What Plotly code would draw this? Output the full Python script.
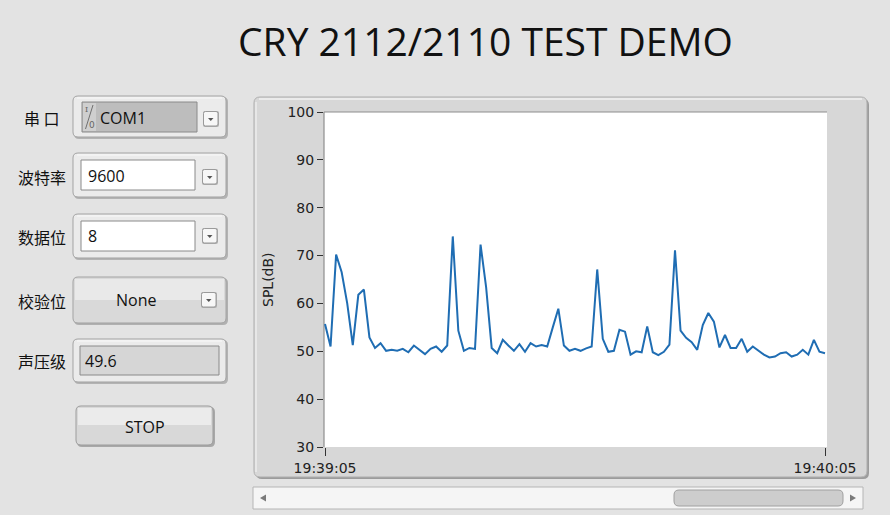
import plotly.graph_objects as go
import pandas as pd

# ---------------- data ----------------
TITLE = "CRY 2112/2110 TEST DEMO"
TICK_LABELS = ["19:39:05", "19:40:05"]
Y_TITLE = "SPL(dB)"
Y_TICKS = [30, 40, 50, 60, 70, 80, 90, 100]
SPL_DB = [
    55.7, 51.0, 70.2, 66.5, 60.0, 51.3, 61.8, 62.9, 52.9, 50.7,
    51.7, 50.1, 50.3, 50.1, 50.5, 49.8, 51.2, 50.3, 49.4, 50.5,
    51.0, 49.9, 51.2, 74.0, 54.3, 50.1, 50.7, 50.5, 72.3, 63.4,
    50.7, 49.6, 52.4, 51.2, 50.1, 51.5, 49.9, 51.7, 51.0, 51.3,
    51.0, 55.0, 58.9, 51.2,
    50.1, 50.5, 50.1, 50.6, 51.0, 67.1, 52.6, 49.9, 50.1, 54.5,
    54.1, 49.3, 50.0, 49.8, 55.2, 49.8, 49.2, 49.9, 51.4, 71.1,
    54.3, 52.8, 51.9, 50.3, 55.5, 58.0, 56.2, 50.8, 53.4, 50.7,
    50.7, 52.6, 49.9, 51.0, 50.1, 49.3, 48.7, 48.9, 49.6, 49.8,
    48.9, 49.3, 50.3, 49.3, 52.4, 49.9, 49.6,
]
FIELD_LABELS = ["串 口", "波特率", "数据位", "校验位", "声压级"]
FIELD_VALUES = ["COM1", "9600", "8", "None", "49.6"]
BUTTON_TEXT = "STOP"
IO_ICON = ["I", "0"]

# ---------------- geometry (pixels) ----------------
W, H = 890, 515
L, R, T, B = 324, 827, 112, 447
PW, PH = R - L, B - T

BG = "#e3e3e3"
LINE_BLUE = "#1f6db3"

DAY = "2024-01-01 "
times = pd.date_range(DAY + TICK_LABELS[0], DAY + TICK_LABELS[-1], periods=len(SPL_DB))
tickvals = [pd.Timestamp(DAY + t) for t in TICK_LABELS]


def fx(x):
    return (x - L) / PW


def fy(y):
    return (B - y) / PH


def pt(x, y):
    return f"{fx(x):.5f},{fy(y):.5f}"


shapes = []
annotations = []


def rrect(x0, y0, x1, y1, r, fill, line=None, lw=1):
    path = (f"M{pt(x0 + r, y0)} L{pt(x1 - r, y0)} Q{pt(x1, y0)} {pt(x1, y0 + r)} "
            f"L{pt(x1, y1 - r)} Q{pt(x1, y1)} {pt(x1 - r, y1)} L{pt(x0 + r, y1)} "
            f"Q{pt(x0, y1)} {pt(x0, y1 - r)} L{pt(x0, y0 + r)} Q{pt(x0, y0)} {pt(x0 + r, y0)} Z")
    shapes.append(dict(type="path", path=path, xref="paper", yref="paper",
                       fillcolor=fill,
                       line=dict(color=line if line else "rgba(0,0,0,0)", width=lw if line else 0),
                       layer="below"))


def rect(x0, y0, x1, y1, fill, line=None, lw=1):
    shapes.append(dict(type="rect", xref="paper", yref="paper",
                       x0=fx(x0), x1=fx(x1), y0=fy(y1), y1=fy(y0),
                       fillcolor=fill,
                       line=dict(color=line if line else "rgba(0,0,0,0)", width=lw if line else 0),
                       layer="below"))


def seg(x0, y0, x1, y1, color, lw=1):
    shapes.append(dict(type="line", xref="paper", yref="paper",
                       x0=fx(x0), x1=fx(x1), y0=fy(y0), y1=fy(y1),
                       line=dict(color=color, width=lw), layer="below"))


def hline(x0, x1, y, color, lw=1):
    seg(x0, y, x1, y, color, lw)


def vline(x, y0, y1, color, lw=1):
    seg(x, y0, x, y1, color, lw)


def tri(points, fill):
    path = "M" + " L".join(pt(x, y) for x, y in points) + " Z"
    shapes.append(dict(type="path", path=path, xref="paper", yref="paper",
                       fillcolor=fill, line=dict(width=0), layer="below"))


def text(x, y, s, size, color="#111111", family="Open Sans", xanchor="center", angle=0, pad=1):
    annotations.append(dict(x=fx(x), y=fy(y), xref="paper", yref="paper", text=s,
                            showarrow=False, xanchor=xanchor, yanchor="middle",
                            textangle=angle, borderpad=pad,
                            font=dict(size=size, color=color, family=family)))


def frame(x0, y0, x1, y1):
    rrect(x0 + 1, y0 + 1, x1 + 2, y1 + 2, 5, "#b3b3b3")
    rrect(x0, y0, x1, y1, 5, "#ebebeb", "#a3a3a3", 1)
    hline(x0 + 4, x1 - 4, y0 + 2, "#fafafa", 1)


def dropdown(cx, cy):
    rrect(cx - 8, cy - 8, cx + 8, cy + 8, 2, "#b0b0b0")
    rrect(cx - 7.5, cy - 7.5, cx + 7, cy + 7, 2, "#f7f7f7", "#9a9a9a", 1)
    tri([(cx - 3, cy - 1), (cx + 2.5, cy - 1), (cx - 0.25, cy + 2)], "#555555")


# ---------------- chart frame ----------------
rrect(256, 99, 869, 479, 6, "#9c9c9c")
rrect(254, 97, 867, 477, 6, "#d7d7d7", "#b0b0b0", 1)
hline(259, 862, 99, "#f2f2f2", 1.5)
vline(256, 102, 472, "#ececec", 1.5)
rect(L, T, R, B, "#ffffff")
hline(L, R, T, "#8e8e8e", 1.2)
vline(L, T, B, "#8e8e8e", 1.2)

# scrollbar
rect(253, 487, 863, 509, "#f5f5f5", "#b5b5b5", 1)
rrect(674, 490, 843, 506, 5, "#cdcdcd", "#a0a0a0", 1)
tri([(260, 498), (266, 494.5), (266, 501.5)], "#7a7a7a")
tri([(856, 498), (850, 494.5), (850, 501.5)], "#7a7a7a")

# ---------------- left controls ----------------
label_y = [118, 177, 237, 301, 361]
for lab, yy in zip(FIELD_LABELS, label_y):
    text(42, yy, lab, 16, "#111111", "Noto Sans CJK SC")

# 串口
frame(73, 96, 226, 137)
rect(82, 102, 197, 132, "#bdbdbd", "#8a8a8a", 1)
rect(83, 103, 96, 131, "#cfcfcf")
seg(85.5, 129, 93, 105, "#707070", 1)
text(86, 109, IO_ICON[0], 8, "#666666", "DejaVu Serif", pad=0)
text(92, 125, IO_ICON[1], 9, "#666666", "DejaVu Sans", pad=0)
dropdown(211, 119)
text(98.5, 118, FIELD_VALUES[0], 16, "#111111", xanchor="left", pad=0)

# 波特率
frame(73, 153, 226, 197)
rect(81, 160, 195, 190, "#ffffff", "#8a8a8a", 1)
dropdown(210, 177)
text(86, 176, FIELD_VALUES[1], 16, "#111111", xanchor="left")

# 数据位
frame(73, 214, 226, 258)
rect(81, 221, 195, 251, "#ffffff", "#8a8a8a", 1)
dropdown(210, 236)
text(86, 236, FIELD_VALUES[2], 16, "#111111", xanchor="left")

# 校验位
rrect(74, 278, 228, 325, 5, "#b0b0b0")
rrect(73, 277, 226, 323, 5, "#d9d9d9", "#a3a3a3", 1)
rect(75, 279, 224, 300, "#e9e9e9")
dropdown(209, 300)
text(136, 300, FIELD_VALUES[3], 16, "#111111")

# 声压级
frame(73, 339, 226, 382)
rect(80, 346, 219, 375, "#d6d6d6", "#8a8a8a", 1)
text(83, 361, FIELD_VALUES[4], 16, "#111111", xanchor="left")

# STOP
rrect(77, 407, 215, 447, 5, "#a8a8a8")
rrect(76, 406, 213, 445, 5, "#d8d8d8", "#9c9c9c", 1)
rect(78, 408, 211, 425, "#ebebeb")
text(145, 427, BUTTON_TEXT, 16, "#111111")

# title
text(485, 40, TITLE, 39, "#111111", "Open Sans")

# y title
text(268, 280, Y_TITLE, 14, "#222222", "DejaVu Sans", angle=-90)

# ---------------- figure ----------------
fig = go.Figure()
fig.add_trace(go.Scatter(x=times, y=SPL_DB, mode="lines",
                         line=dict(color=LINE_BLUE, width=2),
                         hoverinfo="skip", showlegend=False))

pad_left = pd.Timedelta(seconds=0.12)
pad_right = pd.Timedelta(seconds=0.24)

fig.update_layout(
    width=W, height=H,
    margin=dict(l=L, r=W - R, t=T, b=H - B, pad=0),
    paper_bgcolor=BG,
    plot_bgcolor="rgba(0,0,0,0)",
    showlegend=False,
    shapes=shapes,
    annotations=annotations,
    xaxis=dict(type="date", range=[times[0] - pad_left, times[-1] + pad_right],
               tickmode="array", tickvals=tickvals, ticktext=TICK_LABELS,
               ticks="outside", ticklen=8, tickwidth=1, tickcolor="#333333",
               showgrid=False, zeroline=False, showline=False,
               tickfont=dict(family="DejaVu Sans", size=14, color="#222222"),
               fixedrange=True),
    yaxis=dict(range=[30, 100], tickmode="array", tickvals=Y_TICKS,
               ticks="outside", ticklen=6, tickwidth=1, tickcolor="#333333",
               showgrid=False, zeroline=False, showline=False,
               tickfont=dict(family="DejaVu Sans", size=14, color="#222222"),
               fixedrange=True),
)

fig.write_html("out.html", config={"displayModeBar": False},
               post_script="document.body.style.margin='0';document.body.style.background='#e3e3e3';")
